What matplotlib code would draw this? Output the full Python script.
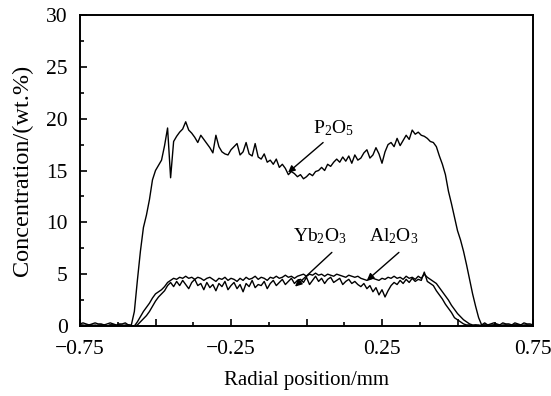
import numpy as np
import matplotlib
matplotlib.use('Agg')
import matplotlib.pyplot as plt
from matplotlib.ticker import MultipleLocator, FixedLocator, FixedFormatter

plt.rcParams['font.family'] = ['Liberation Serif', 'DejaVu Serif']
plt.rcParams['mathtext.fontset'] = 'custom'
plt.rcParams['mathtext.rm'] = 'Liberation Serif'
plt.rcParams['mathtext.it'] = 'Liberation Serif'

# radial position grid (mm), one sample every 0.01 mm
x = np.round(np.arange(-0.75, 0.7501, 0.01), 3)

p2o5 = [0.2, 0.3, 0.2, 0.1, 0.2, 0.3, 0.2, 0.2, 0.1, 0.2, 0.3, 0.2, 0.1, 0.2, 0.2, 0.3, 0.1, 0.1,
        1.4, 4.4, 7.2, 9.5, 10.7, 12.2, 14.1, 15.0, 15.5, 16.0, 17.4, 19.1, 14.3,
        17.8, 18.3, 18.7, 19.0, 19.7, 18.9, 18.6, 18.2, 17.7, 18.4, 18.0, 17.6, 17.2, 16.7, 18.4, 17.3,
        16.8, 16.6, 16.5, 17.0, 17.3,
        17.6, 16.5, 16.8, 17.7, 16.6, 16.4, 17.6, 16.3, 16.1, 16.6, 15.8, 16.0, 15.6, 16.1, 15.3, 15.6,
        15.2, 14.6, 14.9, 14.7, 14.4, 14.6, 14.2, 14.4, 14.7, 14.5, 14.9, 15.0, 15.3, 15.0, 15.6, 15.4,
        15.8, 16.1,
        15.8, 16.3, 15.9, 16.4, 15.7, 16.5, 16.0, 16.2, 16.7, 17.0, 16.2, 16.5, 17.2, 16.6, 15.7, 16.8,
        17.5, 17.7, 17.3, 18.1, 17.4, 17.9, 18.4, 18.0, 18.9, 18.5, 18.7, 18.4, 18.3, 18.1, 17.8, 17.7,
        17.3,
        16.4, 15.6, 14.6, 13.0, 11.8, 10.5, 9.2, 8.3, 7.2, 5.9, 4.5, 3.1, 1.9, 0.8, 0.1,
        0.3, 0.1, 0.2, 0.3, 0.2, 0.1, 0.3, 0.2, 0.2, 0.1, 0.3, 0.2, 0.1, 0.3, 0.2, 0.2, 0.1]

al2o3 = [0.1, 0.1, 0.0, 0.1, 0.1, 0.0, 0.1, 0.1, 0.1, 0.0, 0.1, 0.1, 0.0, 0.1, 0.1, 0.0, 0.1, 0.0, 0.0,
         0.4, 0.9, 1.4, 1.8, 2.2, 2.7, 3.1, 3.3, 3.5, 3.8, 4.2, 4.4, 4.6,
         4.5, 4.7, 4.6, 4.8, 4.6, 4.7, 4.5, 4.7, 4.6, 4.4, 4.6, 4.7, 4.5, 4.3, 4.6, 4.5, 4.7, 4.4, 4.6,
         4.5, 4.3, 4.6, 4.4, 4.7, 4.5, 4.6, 4.8, 4.5, 4.7, 4.6, 4.4, 4.7, 4.6, 4.8, 4.6, 4.7, 4.9, 4.7,
         4.8, 4.6, 4.8,
         4.9, 5.0, 4.8, 5.0, 4.9, 5.1, 4.9, 5.0, 4.8, 5.0, 4.9, 4.8, 5.0, 4.9, 4.8, 4.7, 4.9, 4.8, 4.7,
         4.8,
         4.6, 4.5, 4.4, 4.5, 4.6, 4.5, 4.4, 4.6, 4.5, 4.7, 4.6, 4.8, 4.6, 4.7, 4.5, 4.8, 4.6, 4.7, 4.5,
         4.8, 4.6, 5.0, 4.7, 4.5,
         4.3, 4.1, 3.7, 3.3, 2.9, 2.5, 2.0, 1.6, 1.2, 0.9, 0.6, 0.4, 0.2, 0.1,
         0.1, 0.0, 0.1, 0.1, 0.0, 0.1, 0.1, 0.1, 0.0, 0.1, 0.1, 0.0, 0.1, 0.1, 0.1, 0.0, 0.1, 0.1, 0.0,
         0.1]

yb2o3 = [0.1, 0.0, 0.1, 0.1, 0.0, 0.1, 0.0, 0.1, 0.1, 0.0, 0.1, 0.1, 0.0, 0.1, 0.0, 0.1, 0.1, 0.0,
         0.0, 0.1,
         0.4, 0.7, 1.0, 1.4, 1.9, 2.4, 2.8, 3.1, 3.4, 3.9, 4.2,
         3.8, 4.3, 3.9, 4.4, 4.0, 3.6, 4.2, 4.5, 3.9, 4.1, 3.5, 4.2, 3.7, 4.0, 3.4, 4.1, 3.8, 4.3, 3.5,
         3.9, 4.2, 3.6, 4.0, 3.3, 4.1, 3.8, 4.4, 3.7, 4.0, 3.9, 4.3, 3.6, 4.1, 4.4, 3.9, 4.2, 4.5, 4.0,
         4.3, 4.6, 4.1, 4.4,
         4.5, 4.2, 4.7, 4.0, 4.4, 4.8, 4.3, 4.6, 4.1, 4.5, 4.7, 4.2, 4.4, 4.6, 4.0, 4.3, 4.5, 4.1, 4.3,
         4.0,
         3.8, 4.1, 3.6, 3.9, 3.3, 3.7, 3.0, 3.5, 2.8, 3.4, 3.9,
         4.2, 4.0, 4.4, 4.1, 4.5, 4.2, 4.6, 4.3, 4.5, 4.4, 5.2, 4.3, 4.1,
         3.9, 3.4, 3.0, 2.6, 2.1, 1.7, 1.3, 0.8, 0.6, 0.4, 0.2, 0.1,
         0.1, 0.0, 0.1, 0.1, 0.0, 0.1, 0.1, 0.0, 0.1, 0.1, 0.1, 0.0, 0.1, 0.1, 0.0, 0.1, 0.1, 0.1, 0.0,
         0.1, 0.1, 0.0]

xticks = [-0.75, -0.5, -0.25, 0, 0.25, 0.5, 0.75]
xticklabels = ['\u22120.75', '', '\u22120.25', '', '0.25', '', '0.75']

fig = plt.figure(figsize=(5.51, 3.96), dpi=100)
ax = fig.add_axes([80 / 551, 1 - 326 / 396, 453 / 551, 311 / 396])

ax.plot(x, p2o5, color='black', lw=1.0)
ax.plot(x, al2o3, color='black', lw=1.0)
ax.plot(x, yb2o3, color='black', lw=1.0)

ax.set_xlim(-0.75, 0.75)
ax.set_ylim(0, 30)
ax.xaxis.set_major_locator(FixedLocator(xticks))
ax.xaxis.set_major_formatter(FixedFormatter(xticklabels))
ax.xaxis.set_minor_locator(MultipleLocator(0.125))
ax.yaxis.set_major_locator(MultipleLocator(5))
ax.yaxis.set_minor_locator(MultipleLocator(2.5))
ax.tick_params(which='both', direction='in', top=False, right=False, width=1.2, labelsize=15.5)
ax.tick_params(which='major', length=5)
ax.tick_params(which='minor', length=3)
ax.tick_params(axis='x', which='major', pad=10)
ax.tick_params(axis='y', which='major', pad=9)
for s in ax.spines.values():
    s.set_linewidth(1.4)

ax.set_xlabel('Radial position/mm', fontsize=15, labelpad=9)
ax.set_ylabel('Concentration/(wt.%)', fontsize=17.5, labelpad=9)

# labels and arrows
arrow = dict(arrowstyle='-|>', color='black', lw=1.0, mutation_scale=10, shrinkA=0, shrinkB=0)
ax.text(0.088, 19.1, 'P$_2$O$_5$', fontsize=14, ha='center', va='center')
ax.annotate('', xy=(-0.061, 14.8), xytext=(0.055, 17.7), arrowprops=arrow)
ax.text(0.045, 8.7, 'Yb$_2$O$_3$', fontsize=14, ha='center', va='center')
ax.annotate('', xy=(-0.038, 3.8), xytext=(0.084, 7.1), arrowprops=arrow)
ax.text(0.29, 8.7, 'Al$_2$O$_3$', fontsize=14, ha='center', va='center')
ax.annotate('', xy=(0.20, 4.4), xytext=(0.306, 7.1), arrowprops=arrow)

plt.savefig('out.png', dpi=100)
